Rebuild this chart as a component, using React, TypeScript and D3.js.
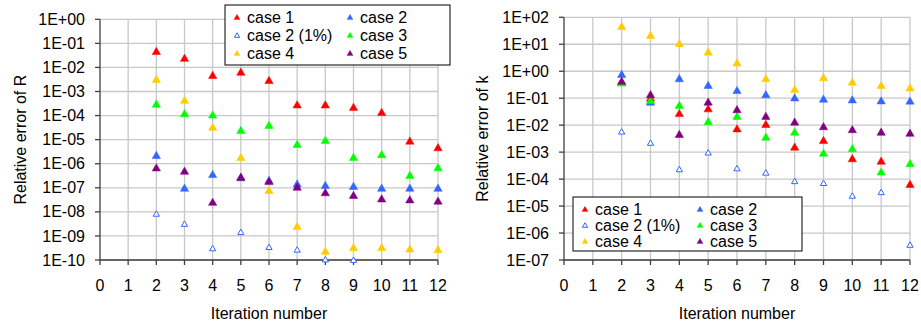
import { useEffect, useRef } from 'react'
import * as d3 from 'd3'

const iterations = [2, 3, 4, 5, 6, 7, 8, 9, 10, 11, 12]
const xTicks = [0, 1, 2, 3, 4, 5, 6, 7, 8, 9, 10, 11, 12]

// relative error of R
const r_case1 = [4.8e-2, 2.5e-2, 4.9e-3, 6.6e-3, 3e-3, 2.9e-4, 2.9e-4, 2.3e-4, 1.4e-4, 9.1e-6, 4.8e-6]
const r_case2 = [2.3e-6, 1e-7, 3.7e-7, 2.7e-7, 2.1e-7, 1.5e-7, 1.3e-7, 1.2e-7, 1e-7, 1e-7, 1e-7]
const r_case2p = [8.7e-9, 3.3e-9, 3.2e-10, 1.5e-9, 3.6e-10, 2.8e-10, 1.1e-10, 1.05e-10, null, null, null]
const r_case3 = [3.1e-4, 1.25e-4, 1.1e-4, 2.5e-5, 4.1e-5, 6.6e-6, 9.7e-6, 1.9e-6, 2.5e-6, 3.4e-7, 7.1e-7]
const r_case4 = [3.3e-3, 4.5e-4, 3.4e-5, 1.9e-6, 8.1e-8, 2.6e-9, 2.4e-10, 3.4e-10, 3.4e-10, 3e-10, 2.8e-10]
const r_case5 = [7e-7, 5.1e-7, 2.6e-8, 2.9e-7, 1.9e-7, 1.1e-7, 6.5e-8, 5e-8, 3.6e-8, 3.3e-8, 2.9e-8]

// relative error of k
const k_case1 = [0.4, 0.105, 0.028, 0.042, 7.6e-3, 0.011, 1.6e-3, 2.8e-3, 5.9e-4, 4.8e-4, 6.6e-5]
const k_case2 = [0.79, 0.074, 0.55, 0.31, 0.2, 0.14, 0.107, 0.096, 0.09, 0.083, 0.081]
const k_case2p = [6e-3, 2.3e-3, 2.4e-4, 1e-3, 2.6e-4, 1.8e-4, 8.7e-5, 7.4e-5, 2.5e-5, 3.4e-5, 3.8e-7]
const k_case3 = [0.38, 0.085, 0.056, 0.014, 0.022, 3.7e-3, 5.7e-3, 9.5e-4, 1.4e-3, 1.9e-4, 3.9e-4]
const k_case4 = [47.6, 22, 11, 5.3, 2.1, 0.55, 0.22, 0.6, 0.41, 0.31, 0.25]
const k_case5 = [0.44, 0.14, 4.7e-3, 0.074, 0.039, 0.022, 0.0135, 9.1e-3, 7.1e-3, 5.7e-3, 5.2e-3]

const caseNames = ['case 1', 'case 2', 'case 2 (1%)', 'case 3', 'case 4', 'case 5']
const caseColors = ['#ff0000', '#3366ff', '#3366ff', '#00ff00', '#ffcc00', '#800080']
const caseHollow = [false, false, true, false, false, false]

const rTicks = ['1E+00', '1E-01', '1E-02', '1E-03', '1E-04', '1E-05', '1E-06', '1E-07', '1E-08', '1E-09', '1E-10']
const kTicks = ['1E+02', '1E+01', '1E+00', '1E-01', '1E-02', '1E-03', '1E-04', '1E-05', '1E-06', '1E-07']

const FONT = '"Liberation Sans", Arial, sans-serif'

interface PanelSpec {
  left: number
  right: number
  top: number
  bottom: number
  yTicks: string[]
  series: (number | null)[][]
  yTitle: string
  titleX: number
  legend: { x: number; y: number; w: number; h: number; rowH: number; col2: number }
}

function drawPanel(root: d3.Selection<SVGSVGElement, unknown, null, undefined>, p: PanelSpec) {
  const vals = p.yTicks.map(t => +t)
  const x = d3.scaleLinear().domain([0, 12]).range([p.left, p.right])
  const y = d3.scaleLog().domain([d3.min(vals)!, d3.max(vals)!]).range([p.bottom, p.top])
  const g = root.append('g')

  // grid
  g.selectAll('line.vg').data(xTicks.slice(1)).enter().append('line')
    .attr('x1', d => x(d)).attr('x2', d => x(d))
    .attr('y1', p.top).attr('y2', p.bottom)
    .attr('stroke', '#c8c8c8').attr('stroke-width', 1.3)
  g.selectAll('line.hg').data(vals).enter().append('line')
    .attr('x1', p.left).attr('x2', p.right)
    .attr('y1', d => y(d)).attr('y2', d => y(d))
    .attr('stroke', '#c8c8c8').attr('stroke-width', 1.3)

  // axes
  g.append('line').attr('x1', p.left).attr('x2', p.left).attr('y1', p.top).attr('y2', p.bottom)
    .attr('stroke', '#404040').attr('stroke-width', 1.3)
  g.append('line').attr('x1', p.left).attr('x2', p.right).attr('y1', p.bottom).attr('y2', p.bottom)
    .attr('stroke', '#404040').attr('stroke-width', 1.3)
  g.selectAll('line.yt').data(vals).enter().append('line')
    .attr('x1', p.left - 5).attr('x2', p.left)
    .attr('y1', d => y(d)).attr('y2', d => y(d))
    .attr('stroke', '#404040').attr('stroke-width', 1.3)
  g.selectAll('line.xt').data(xTicks).enter().append('line')
    .attr('x1', d => x(d)).attr('x2', d => x(d))
    .attr('y1', p.bottom).attr('y2', p.bottom + 5)
    .attr('stroke', '#404040').attr('stroke-width', 1.3)

  g.selectAll('text.yl').data(p.yTicks).enter().append('text')
    .attr('x', p.left - 15).attr('y', d => y(+d)).attr('dy', '0.35em')
    .attr('text-anchor', 'end').style('font', `16px ${FONT}`).text(d => d)
  g.selectAll('text.xl').data(xTicks).enter().append('text')
    .attr('x', d => x(d)).attr('y', p.bottom + 31)
    .attr('text-anchor', 'middle').style('font', `16px ${FONT}`).text(d => d)

  g.append('text')
    .attr('x', (p.left + p.right) / 2).attr('y', p.bottom + 59)
    .attr('text-anchor', 'middle').style('font', `16px ${FONT}`).text('Iteration number')
  g.append('text')
    .attr('transform', `translate(${p.titleX},${(p.top + p.bottom) / 2}) rotate(-90)`)
    .attr('dy', '0.35em')
    .attr('text-anchor', 'middle').style('font', `16px ${FONT}`).text(p.yTitle)

  // markers
  const tri = d3.symbol().type(d3.symbolTriangle).size(30)
  const triSmall = d3.symbol().type(d3.symbolTriangle).size(17)
  p.series.forEach((s, i) => {
    const pts = s.map((v, j) => ({ v, it: iterations[j] })).filter(d => d.v != null) as { v: number; it: number }[]
    g.selectAll(null).data(pts).enter().append('path')
      .attr('d', caseHollow[i] ? triSmall() : tri())
      .attr('transform', d => `translate(${x(d.it)},${y(d.v) + 1.1})`)
      .attr('fill', caseHollow[i] ? '#fff' : caseColors[i])
      .attr('stroke', caseColors[i]).attr('stroke-width', caseHollow[i] ? 1 : 0.5)
  })

  // legend
  const L = p.legend
  const lg = g.append('g')
  lg.append('rect').attr('x', L.x).attr('y', L.y).attr('width', L.w).attr('height', L.h)
    .attr('fill', '#fff').attr('stroke', '#000').attr('stroke-width', 1)
  caseNames.forEach((name, i) => {
    const col = i % 2
    const row = Math.floor(i / 2)
    const mx = L.x + (col === 0 ? 12 : L.col2)
    const my = L.y + 12 + row * L.rowH
    lg.append('path')
      .attr('d', d3.symbol().type(d3.symbolTriangle).size(caseHollow[i] ? 12 : 16)())
      .attr('transform', `translate(${mx},${my + 0.8})`)
      .attr('fill', caseHollow[i] ? '#fff' : caseColors[i])
      .attr('stroke', caseColors[i]).attr('stroke-width', caseHollow[i] ? 1 : 0.3)
    lg.append('text').attr('x', mx + 10).attr('y', my).attr('dy', '0.35em')
      .style('font', `16px ${FONT}`).text(name)
  })
}

export default function App() {
  const svgRef = useRef<SVGSVGElement>(null)

  useEffect(() => {
    if (!svgRef.current) return
    const svg = d3.select(svgRef.current)
    svg.selectAll('*').remove()

    drawPanel(svg, {
      left: 100, right: 438, top: 19.3, bottom: 260,
      yTicks: rTicks,
      series: [r_case1, r_case2, r_case2p, r_case3, r_case4, r_case5],
      yTitle: 'Relative error of R', titleX: 20,
      legend: { x: 225, y: 5, w: 225, h: 60, rowH: 18, col2: 125 },
    })
    drawPanel(svg, {
      left: 564, right: 910, top: 17.3, bottom: 260,
      yTicks: kTicks,
      series: [k_case1, k_case2, k_case2p, k_case3, k_case4, k_case5],
      yTitle: 'Relative error of k', titleX: 482,
      legend: { x: 573, y: 197, w: 229, h: 54, rowH: 16, col2: 127 },
    })
  }, [])

  return (
    <svg ref={svgRef} width={921} height={324}
      style={{ position: 'absolute', left: 0, top: 0, background: '#fff' }} />
  )
}
